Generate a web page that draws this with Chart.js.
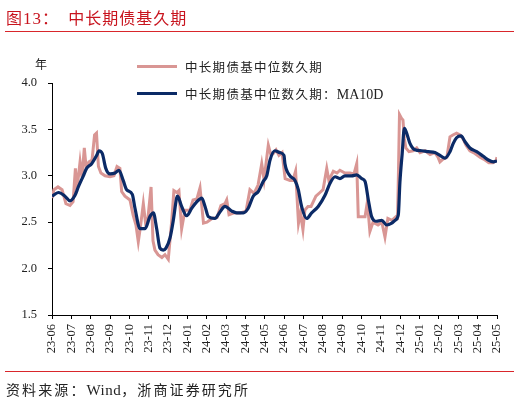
<!DOCTYPE html>
<html>
<head>
<meta charset="utf-8">
<script src="https://cdn.jsdelivr.net/npm/chart.js@4.4.1/dist/chart.umd.min.js"></script>
<style>
    body { margin: 0; background: #fff; }
    #wrap { position: relative; width: 520px; height: 402px; overflow: hidden; }
    #myChart { position: absolute; left: 0; top: 0; }
    .txt { position: absolute; white-space: nowrap; font-family: "Noto Sans CJK SC", sans-serif; }
    #titolo { left: 6px; top: 5px; font-size: 16px; color: #c8141e; letter-spacing: 1px; }
    #titolo .num { font-family: "Liberation Serif", serif; font-size: 17px; }
    .riga { position: absolute; left: 5px; width: 509px; height: 1px; background: #d9262b; }
    #fonte { left: 6px; top: 379px; font-size: 14px; color: #222; letter-spacing: 2.1px; }
    #fonte .lat { font-family: "Liberation Serif", serif; font-size: 15px; letter-spacing: 0.5px; }
    #unita { left: 35px; top: 55px; font-size: 12px; color: #222; }
    .leg { position: absolute; left: 137px; width: 40px; height: 3px; }
    .legtxt { left: 185px; font-size: 12.5px; color: #222; letter-spacing: 1.3px; }
    .legtxt .lat { font-family: "Liberation Serif", serif; font-size: 14px; letter-spacing: 0; }
</style>
</head>
<body>
<div id="wrap">
    <canvas id="myChart" width="520" height="402"></canvas>
    <div class="txt" id="titolo">图<span class="num">13</span>：&nbsp;&nbsp;中长期债基久期</div>
    <div class="riga" style="top:31px"></div>
    <div class="txt" id="unita">年</div>
    <div class="leg" style="top:65px; background:#d99694"></div>
    <div class="txt legtxt" style="top:57px">中长期债基中位数久期</div>
    <div class="leg" style="top:92px; background:#0b2a66"></div>
    <div class="txt legtxt" style="top:84px">中长期债基中位数久期：<span class="lat">MA10D</span></div>
    <div class="riga" style="top:371px"></div>
    <div class="txt" id="fonte">资料来源：<span class="lat">Wind</span>，浙商证券研究所</div>
</div>

<script>
// etichette dei mesi sull'asse x (una per tick)
const mesi = ['23-06','23-07','23-08','23-09','23-10','23-11','23-12','24-01','24-02','24-03','24-04','24-05',
              '24-06','24-07','24-08','24-09','24-10','24-11','24-12','25-01','25-02','25-03','25-04','25-05'];

// serie giornaliera (posizione in mesi da 23-06, valore in anni)
const rawX = [0,0.10,0.31,0.52,0.72,0.93,1.09,1.21,1.29,1.45,1.55,1.67,1.76,1.91,2.07,2.20,2.30,2.40,2.53,2.74,
              3.00,3.20,3.36,3.51,3.60,3.77,4.03,4.19,4.34,4.46,4.57,4.72,4.83,4.96,5.12,5.22,5.32,5.48,5.68,5.84,
              6.01,6.19,6.30,6.46,6.56,6.70,6.87,7.13,7.29,7.49,7.65,7.83,8.01,8.27,8.53,8.73,8.94,9.03,9.15,9.41,
              9.72,10.03,10.23,10.44,10.65,10.84,10.96,11.18,11.32,11.44,11.58,11.73,11.89,12.05,12.30,12.45,12.59,12.74,12.84,12.97,
              13.07,13.23,13.39,13.64,13.85,14.01,14.20,14.31,14.54,14.73,14.88,15.14,15.40,15.61,15.75,15.83,16.02,16.18,16.30,16.43,
              16.59,16.85,17.05,17.21,17.36,17.57,17.78,17.86,17.91,17.96,18.06,18.14,18.21,18.29,18.45,18.66,18.85,19.02,19.28,19.54,
              19.79,19.95,20.05,20.21,20.41,20.57,20.72,20.91,21.09,21.24,21.40,21.60,21.86,22.12,22.38,22.58,22.79,22.95,23.00];
const rawY = [2.76,2.85,2.88,2.85,2.70,2.68,2.72,3.08,2.85,3.15,2.98,3.30,3.10,3.15,3.17,3.44,3.46,3.10,3.03,3.00,
              2.99,3.00,3.10,3.08,2.83,2.78,2.74,2.58,2.47,2.29,2.45,2.70,2.50,2.55,2.88,2.30,2.20,2.15,2.12,2.15,
              2.10,2.52,2.84,2.82,2.84,2.43,2.63,2.63,2.74,2.75,2.87,2.49,2.50,2.54,2.55,2.68,2.70,2.74,2.58,2.60,
              2.60,2.62,2.85,2.81,2.90,3.13,2.96,3.33,3.22,3.24,3.28,3.22,3.25,2.97,2.95,2.95,3.05,2.49,2.60,2.42,
              2.63,2.67,2.67,2.78,2.82,2.85,3.08,2.95,3.05,3.03,3.06,3.03,3.03,3.02,3.13,2.56,2.56,2.56,2.72,2.40,
              2.50,2.47,2.50,2.34,2.54,2.52,2.56,2.55,3.08,3.66,3.62,3.60,3.40,3.30,3.26,3.27,3.30,3.25,3.27,3.23,
              3.25,3.20,3.15,3.18,3.20,3.42,3.44,3.46,3.44,3.40,3.33,3.27,3.24,3.20,3.17,3.14,3.14,3.16,3.20];

// media mobile 10 giorni
const maX = [0,0.33,0.67,0.93,1.19,1.36,1.62,1.79,2.05,2.31,2.43,2.60,2.78,3.00,3.26,3.46,3.68,3.86,4.15,4.29,
             4.55,4.81,5.06,5.24,5.41,5.58,5.75,5.89,6.10,6.27,6.44,6.49,6.70,6.96,7.22,7.48,7.74,7.91,8.08,8.42,
             8.68,8.94,9.29,9.55,9.89,10.14,10.40,10.66,10.92,11.10,11.27,11.52,11.78,11.99,12.04,12.30,12.56,12.73,12.90,13.16,
             13.42,13.76,14.11,14.37,14.63,14.88,15.14,15.49,15.75,16.01,16.18,16.35,16.52,16.78,17.04,17.30,17.56,17.73,17.90,17.98,
             18.10,18.21,18.33,18.50,18.76,19.11,19.45,19.79,20.05,20.31,20.57,20.74,20.91,21.14,21.34,21.60,21.95,22.29,22.55,22.81,23.00];
const maY = [2.78,2.82,2.78,2.73,2.79,2.88,3.00,3.08,3.13,3.22,3.27,3.24,3.08,3.02,3.03,3.06,2.95,2.85,2.80,2.65,
             2.43,2.43,2.56,2.60,2.43,2.22,2.20,2.22,2.33,2.52,2.76,2.78,2.67,2.57,2.65,2.72,2.76,2.67,2.56,2.54,
             2.61,2.67,2.62,2.60,2.60,2.65,2.78,2.83,2.94,3.00,3.17,3.27,3.25,3.22,3.13,3.00,2.95,2.85,2.67,2.54,
             2.60,2.67,2.79,2.92,2.99,2.97,3.00,3.00,3.01,2.97,2.94,2.74,2.56,2.51,2.52,2.47,2.49,2.52,2.58,2.92,
             3.24,3.51,3.46,3.35,3.28,3.27,3.26,3.25,3.22,3.19,3.26,3.35,3.41,3.43,3.37,3.30,3.26,3.21,3.17,3.15,3.16];

// asse y
const yMin = 1.5, yMax = 4.0, yStep = 0.5;

function coppie(xs, ys) {
    return xs.map((x, i) => ({ x: x, y: ys[i] }));
}

const fontAssi = { family: '"Liberation Serif", "Times New Roman", serif', size: 12.5 };

const ctx = document.getElementById('myChart').getContext('2d');
const chart = new Chart(ctx, {
    type: 'line',
    data: {
        datasets: [{
            label: '中长期债基中位数久期',
            data: coppie(rawX, rawY),
            borderColor: '#d99694',
            borderWidth: 3,
            pointRadius: 0,
            tension: 0,
            order: 2
        }, {
            label: '中长期债基中位数久期：MA10D',
            data: coppie(maX, maY),
            borderColor: '#0b2a66',
            borderWidth: 3.2,
            pointRadius: 0,
            cubicInterpolationMode: 'monotone',
            order: 1
        }]
    },
    options: {
        responsive: false,
        animation: false,
        layout: { padding: { top: 83, right: 23, bottom: 32, left: 0 } },
        plugins: {
            legend: { display: false },
            tooltip: { enabled: false }
        },
        scales: {
            x: {
                type: 'linear',
                min: 0,
                max: mesi.length - 1,
                afterFit: s => { s.height = 55; },
                border: { display: true, color: '#000', width: 1 },
                grid: { drawOnChartArea: false, drawTicks: true, tickLength: 4, color: '#000' },
                ticks: {
                    stepSize: 1,
                    autoSkip: false,
                    minRotation: 90,
                    maxRotation: 90,
                    padding: 5,
                    color: '#222',
                    font: fontAssi,
                    callback: v => mesi[v]
                }
            },
            y: {
                min: yMin,
                max: yMax,
                afterFit: s => { s.width = 52; },
                border: { display: true, color: '#000', width: 1 },
                grid: { drawOnChartArea: false, drawTicks: true, tickLength: 4, color: '#000' },
                ticks: {
                    stepSize: yStep,
                    padding: 11,
                    color: '#222',
                    font: fontAssi,
                    callback: v => v.toFixed(1)
                }
            }
        }
    }
});
</script>
</body>
</html>
